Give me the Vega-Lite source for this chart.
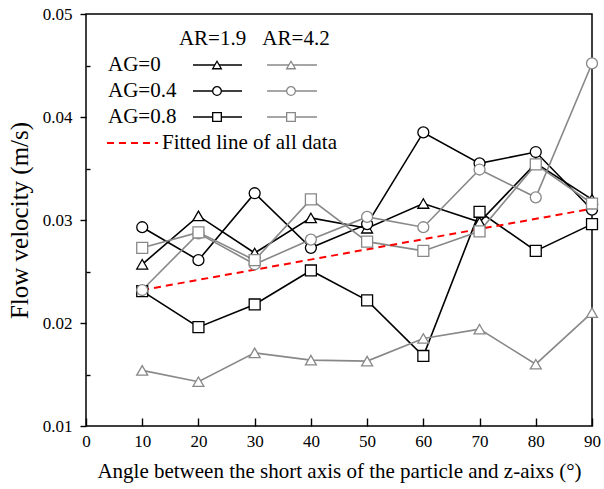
{
  "$schema": "https://vega.github.io/schema/vega-lite/v6.json",
  "autosize": "none",
  "width": 506,
  "height": 412,
  "padding": {"left": 86, "top": 14, "right": 12, "bottom": 63},
  "background": "white",
  "config": {
    "font": "Liberation Serif",
    "view": {"stroke": "black", "strokeWidth": 1.5},
    "axis": {"grid": false, "domain": false, "tickColor": "black", "labelColor": "black", "titleColor": "black", "labelFont": "Liberation Serif", "titleFont": "Liberation Serif", "titleFontWeight": "normal"}
  },
  "datasets": {
    "main": [
      {"angle": 10, "v": 0.0257, "AR": "1.9", "AG": "0"},
      {"angle": 20, "v": 0.0304, "AR": "1.9", "AG": "0"},
      {"angle": 30, "v": 0.0268, "AR": "1.9", "AG": "0"},
      {"angle": 40, "v": 0.0302, "AR": "1.9", "AG": "0"},
      {"angle": 50, "v": 0.0292, "AR": "1.9", "AG": "0"},
      {"angle": 60, "v": 0.0316, "AR": "1.9", "AG": "0"},
      {"angle": 70, "v": 0.0298, "AR": "1.9", "AG": "0"},
      {"angle": 80, "v": 0.0355, "AR": "1.9", "AG": "0"},
      {"angle": 90, "v": 0.0320, "AR": "1.9", "AG": "0"},
      {"angle": 10, "v": 0.0293, "AR": "1.9", "AG": "0.4"},
      {"angle": 20, "v": 0.0261, "AR": "1.9", "AG": "0.4"},
      {"angle": 30, "v": 0.0326, "AR": "1.9", "AG": "0.4"},
      {"angle": 40, "v": 0.0273, "AR": "1.9", "AG": "0.4"},
      {"angle": 50, "v": 0.0296, "AR": "1.9", "AG": "0.4"},
      {"angle": 60, "v": 0.0385, "AR": "1.9", "AG": "0.4"},
      {"angle": 70, "v": 0.0355, "AR": "1.9", "AG": "0.4"},
      {"angle": 80, "v": 0.0366, "AR": "1.9", "AG": "0.4"},
      {"angle": 90, "v": 0.0310, "AR": "1.9", "AG": "0.4"},
      {"angle": 10, "v": 0.0231, "AR": "1.9", "AG": "0.8"},
      {"angle": 20, "v": 0.0196, "AR": "1.9", "AG": "0.8"},
      {"angle": 30, "v": 0.0218, "AR": "1.9", "AG": "0.8"},
      {"angle": 40, "v": 0.0251, "AR": "1.9", "AG": "0.8"},
      {"angle": 50, "v": 0.0222, "AR": "1.9", "AG": "0.8"},
      {"angle": 60, "v": 0.0168, "AR": "1.9", "AG": "0.8"},
      {"angle": 70, "v": 0.0308, "AR": "1.9", "AG": "0.8"},
      {"angle": 80, "v": 0.0270, "AR": "1.9", "AG": "0.8"},
      {"angle": 90, "v": 0.0296, "AR": "1.9", "AG": "0.8"},
      {"angle": 10, "v": 0.0154, "AR": "4.2", "AG": "0"},
      {"angle": 20, "v": 0.0143, "AR": "4.2", "AG": "0"},
      {"angle": 30, "v": 0.0171, "AR": "4.2", "AG": "0"},
      {"angle": 40, "v": 0.0164, "AR": "4.2", "AG": "0"},
      {"angle": 50, "v": 0.0163, "AR": "4.2", "AG": "0"},
      {"angle": 60, "v": 0.0185, "AR": "4.2", "AG": "0"},
      {"angle": 70, "v": 0.0194, "AR": "4.2", "AG": "0"},
      {"angle": 80, "v": 0.0160, "AR": "4.2", "AG": "0"},
      {"angle": 90, "v": 0.0210, "AR": "4.2", "AG": "0"},
      {"angle": 10, "v": 0.0232, "AR": "4.2", "AG": "0.4"},
      {"angle": 20, "v": 0.0287, "AR": "4.2", "AG": "0.4"},
      {"angle": 30, "v": 0.0257, "AR": "4.2", "AG": "0.4"},
      {"angle": 40, "v": 0.0281, "AR": "4.2", "AG": "0.4"},
      {"angle": 50, "v": 0.0303, "AR": "4.2", "AG": "0.4"},
      {"angle": 60, "v": 0.0293, "AR": "4.2", "AG": "0.4"},
      {"angle": 70, "v": 0.0349, "AR": "4.2", "AG": "0.4"},
      {"angle": 80, "v": 0.0322, "AR": "4.2", "AG": "0.4"},
      {"angle": 90, "v": 0.0452, "AR": "4.2", "AG": "0.4"},
      {"angle": 10, "v": 0.0273, "AR": "4.2", "AG": "0.8"},
      {"angle": 20, "v": 0.0288, "AR": "4.2", "AG": "0.8"},
      {"angle": 30, "v": 0.0261, "AR": "4.2", "AG": "0.8"},
      {"angle": 40, "v": 0.0320, "AR": "4.2", "AG": "0.8"},
      {"angle": 50, "v": 0.0279, "AR": "4.2", "AG": "0.8"},
      {"angle": 60, "v": 0.0270, "AR": "4.2", "AG": "0.8"},
      {"angle": 70, "v": 0.0289, "AR": "4.2", "AG": "0.8"},
      {"angle": 80, "v": 0.0354, "AR": "4.2", "AG": "0.8"},
      {"angle": 90, "v": 0.0316, "AR": "4.2", "AG": "0.8"}
    ],
    "fit": [
      {"angle": 10, "v": 0.0232},
      {"angle": 90, "v": 0.0311}
    ],
    "legSeg": [
      {"AR": "1.9", "AG": "0", "x1": 19.03, "x2": 27.75, "xm": 23.3, "y": 0.04505},
      {"AR": "1.9", "AG": "0.4", "x1": 19.03, "x2": 27.75, "xm": 23.3, "y": 0.04252},
      {"AR": "1.9", "AG": "0.8", "x1": 19.03, "x2": 27.75, "xm": 23.3, "y": 0.04000},
      {"AR": "4.2", "AG": "0", "x1": 32.2, "x2": 41.09, "xm": 36.46, "y": 0.04505},
      {"AR": "4.2", "AG": "0.4", "x1": 32.2, "x2": 41.09, "xm": 36.46, "y": 0.04252},
      {"AR": "4.2", "AG": "0.8", "x1": 32.2, "x2": 41.09, "xm": 36.46, "y": 0.04000}
    ],
    "legFit": [
      {"x1": 3.74, "x2": 12.81, "y": 0.03748}
    ],
    "legRows": [
      {"label": "AG=0", "x": 3.91, "y": 0.04505},
      {"label": "AG=0.4", "x": 3.91, "y": 0.04252},
      {"label": "AG=0.8", "x": 3.91, "y": 0.04000},
      {"label": "Fitted line of all data", "x": 13.52, "y": 0.03748}
    ],
    "legHead": [
      {"label": "AR=1.9", "x": 22.5, "y": 0.04757},
      {"label": "AR=4.2", "x": 37.35, "y": 0.04757}
    ]
  },
  "layer": [
    {
      "data": {"name": "main"},
      "mark": {"type": "line", "strokeWidth": 1.6},
      "encoding": {
        "x": {"field": "angle", "type": "quantitative", "scale": {"domain": [0, 90], "nice": false},
          "axis": {"values": [0, 10, 20, 30, 40, 50, 60, 70, 80, 90], "tickSize": -8, "tickWidth": 1.4, "labelPadding": 15, "labelFlush": false, "labelFontSize": 17, "title": "Angle between the short axis of the particle and z-aixs (°)", "titleFontSize": 21, "titlePadding": 11}},
        "y": {"field": "v", "type": "quantitative", "scale": {"domain": [0.01, 0.05], "nice": false, "zero": false},
          "axis": {"values": [0.01, 0.015, 0.02, 0.025, 0.03, 0.035, 0.04, 0.045, 0.05], "labelExpr": "(round(datum.value*1000) % 10 == 0) ? format(datum.value, '.2f') : ''", "tickSize": {"condition": {"test": "round(datum.value*1000) % 10 == 0", "value": 6}, "value": -4}, "tickWidth": 1.4, "labelPadding": 8, "labelFlush": false, "labelFontSize": 17, "title": "Flow velocity (m/s)", "titleFontSize": 25, "titlePadding": 10}},
        "stroke": {"field": "AR", "type": "nominal", "scale": {"domain": ["1.9", "4.2"], "range": ["#000000", "#888888"]}, "legend": null},
        "detail": {"field": "AG", "type": "nominal"}
      }
    },
    {
      "data": {"name": "fit"},
      "mark": {"type": "line", "color": "#ff0000", "strokeWidth": 2, "strokeDash": [7, 5]},
      "encoding": {
        "x": {"field": "angle", "type": "quantitative"},
        "y": {"field": "v", "type": "quantitative"}
      }
    },
    {
      "data": {"name": "main"},
      "mark": {"type": "point", "filled": true, "fill": "white", "strokeWidth": 1.3, "size": 120, "opacity": 1},
      "encoding": {
        "x": {"field": "angle", "type": "quantitative"},
        "y": {"field": "v", "type": "quantitative"},
        "stroke": {"field": "AR", "type": "nominal", "legend": null},
        "shape": {"field": "AG", "type": "nominal", "scale": {"domain": ["0", "0.4", "0.8"], "range": ["triangle-up", "circle", "square"]}, "legend": null}
      }
    },
    {
      "data": {"name": "legSeg"},
      "mark": {"type": "rule", "strokeWidth": 1.6},
      "encoding": {
        "x": {"field": "x1", "type": "quantitative"},
        "x2": {"field": "x2"},
        "y": {"field": "y", "type": "quantitative"},
        "stroke": {"field": "AR", "type": "nominal", "legend": null}
      }
    },
    {
      "data": {"name": "legSeg"},
      "mark": {"type": "point", "filled": true, "fill": "white", "strokeWidth": 1.3, "size": 75, "opacity": 1},
      "encoding": {
        "x": {"field": "xm", "type": "quantitative"},
        "y": {"field": "y", "type": "quantitative"},
        "stroke": {"field": "AR", "type": "nominal", "legend": null},
        "shape": {"field": "AG", "type": "nominal", "legend": null}
      }
    },
    {
      "data": {"name": "legFit"},
      "mark": {"type": "rule", "color": "#ff0000", "strokeWidth": 2, "strokeDash": [7, 5]},
      "encoding": {
        "x": {"field": "x1", "type": "quantitative"},
        "x2": {"field": "x2"},
        "y": {"field": "y", "type": "quantitative"}
      }
    },
    {
      "data": {"name": "legRows"},
      "mark": {"type": "text", "align": "left", "baseline": "middle", "fontSize": 21, "font": "Liberation Serif", "color": "black"},
      "encoding": {
        "x": {"field": "x", "type": "quantitative"},
        "y": {"field": "y", "type": "quantitative"},
        "text": {"field": "label"}
      }
    },
    {
      "data": {"name": "legHead"},
      "mark": {"type": "text", "align": "center", "baseline": "middle", "fontSize": 21, "font": "Liberation Serif", "color": "black"},
      "encoding": {
        "x": {"field": "x", "type": "quantitative"},
        "y": {"field": "y", "type": "quantitative"},
        "text": {"field": "label"}
      }
    }
  ]
}
